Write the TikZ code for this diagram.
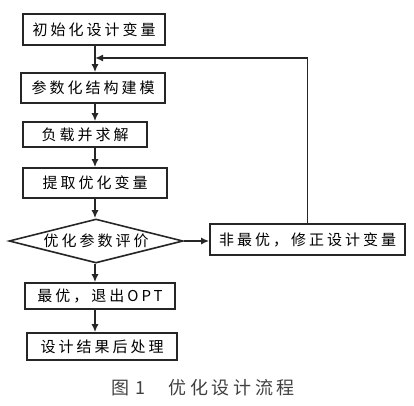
\documentclass[tikz,border=0pt]{standalone}
\usepackage{fontspec}
\newfontfamily\cjk[LetterSpace=20]{Noto Sans CJK SC}
\usepackage{tikz}
\usetikzlibrary{arrows,arrows.meta,calc,positioning,shapes.geometric}

\begin{document}
\begin{tikzpicture}[x=1pt,y=-1pt,
squarednode/.style={rectangle, draw=black!85, line width=1.6pt, inner sep=0pt, font=\cjk\fontsize{15}{17}\selectfont},
decisionnode/.style={diamond, aspect=4, draw=black!85, line width=1.6pt, inner sep=0pt, font=\cjk\fontsize{15}{17}\selectfont},
flowarrow/.style={-{Latex[length=8pt,width=7pt]}, draw=black!85, line width=1.6pt},
]
\useasboundingbox (0,0) rectangle (414,405);
%Nodes
\node[squarednode, minimum width=142pt, minimum height=31pt] (initvar)   at (94,29.5)   {初始化设计变量};
\node[squarednode, minimum width=144pt, minimum height=30pt] (parammodel) at (93,88)    {参数化结构建模};
\node[squarednode, minimum width=124pt, minimum height=25pt] (loadsolve) at (85,134.5)  {负载并求解};
\node[squarednode, minimum width=144pt, minimum height=30pt] (extractvar) at (95,183)   {提取优化变量};
\node[decisionnode, minimum width=174pt, minimum height=44pt] (evaluate) at (96,241)    {优化参数评价};
\node[squarednode, minimum width=195pt, minimum height=31pt] (modifyvar) at (307.5,239.5) {非最优，修正设计变量};
\node[squarednode, minimum width=150pt, minimum height=26pt] (optimum)   at (100,296)   {最优，退出OPT};
\node[squarednode, minimum width=150pt, minimum height=27pt] (postproc)  at (102,346.5) {设计结果后处理};
\node[font=\cjk\fontsize{18}{20}\selectfont, text=black!75] (caption) at (203,388) {图\,\,1\hspace{1.3em}优化设计流程};
\coordinate (feedback) at (95,58);

%Lines
\draw[flowarrow] (initvar.south -| feedback) -- (parammodel.north -| feedback);
\draw[flowarrow] (parammodel.south -| feedback) -- (loadsolve.north -| feedback);
\draw[flowarrow] (loadsolve.south -| feedback) -- (extractvar.north -| feedback);
\draw[flowarrow] (extractvar.south -| feedback) -- (evaluate.north -| feedback);
\draw[flowarrow] (evaluate.east) -- (modifyvar.west |- evaluate.east);
\draw[flowarrow] (modifyvar.north) |- (feedback);
\draw[flowarrow] (evaluate.south -| feedback) -- (optimum.north -| feedback);
\draw[flowarrow] (optimum.south -| feedback) -- (postproc.north -| feedback);
\end{tikzpicture}
\end{document}
